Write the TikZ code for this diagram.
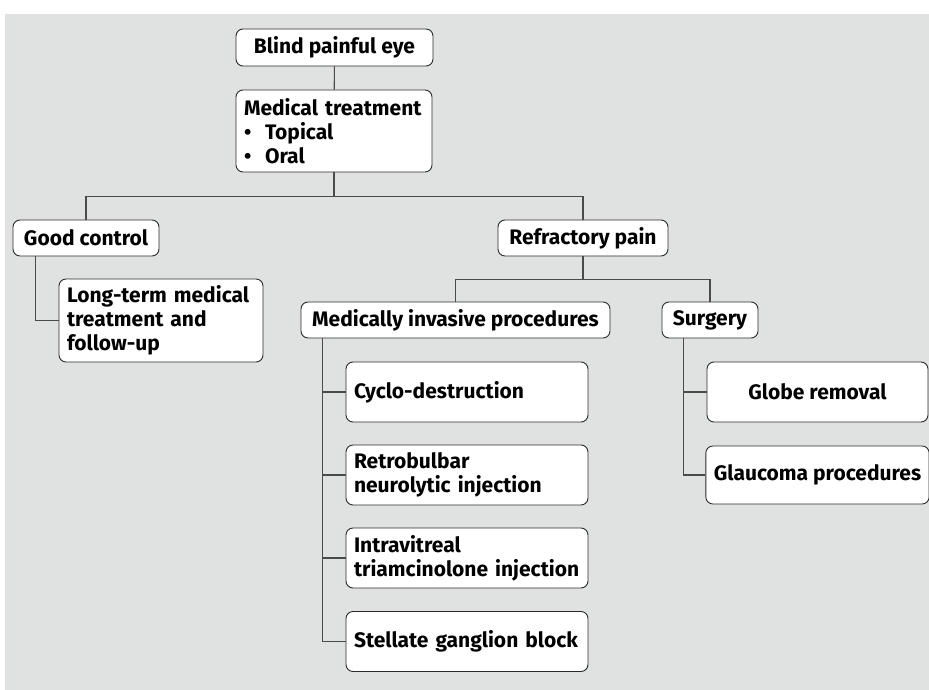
\documentclass[tikz,border=0pt]{standalone}
\usepackage{fontspec}
\setmainfont{Fira Sans}
\usepackage{tikz}
\usetikzlibrary{arrows.meta, calc, positioning}
\definecolor{panelgray}{HTML}{E0E2E1}
\definecolor{boxline}{HTML}{2B2B2B}
\definecolor{linkgray}{HTML}{4A4A4A}
\tikzset{
  box/.style={draw=boxline, fill=white, line width=0.9pt, rounded corners=7pt,
    font=\fontsize{21}{24}\selectfont\bfseries, inner xsep=8pt, inner ysep=0pt},
  leftbox/.style={box, align=left, text width=#1},
  link/.style={draw=linkgray, line width=1.1pt}
}
\newcommand{\bull}[1]{\makebox[21pt][l]{\textbullet}#1}

\begin{document}
\begin{tikzpicture}[x=1pt, y=-1pt]
            \useasboundingbox (0,0) rectangle (929,690);
            \fill[panelgray] (5,14) rectangle (929,690);

            % top of the tree
            \node[box, minimum width=197pt, minimum height=37pt] (blind) at (334.5,47.5) {Blind painful eye};
            \node[leftbox=180pt, minimum width=196pt, minimum height=82pt] (medtx) at (334,131)
                {Medical treatment\\ \bull{Topical}\\ \bull{Oral}};

            % first split
            \node[box, minimum width=146pt, minimum height=36pt] (good) at (86,238) {Good control};
            \node[box, minimum width=170pt, minimum height=36pt] (refr) at (583,238) {Refractory pain};
            \node[leftbox=188pt, minimum width=204pt, minimum height=83pt] (longterm) at (161,320.5)
                {Long-term medical\\ treatment and\\ follow-up};

            % refractory branch
            \node[box, minimum width=309pt, minimum height=36pt] (invasive) at (455.5,320) {Medically invasive procedures};
            \node[box, minimum width=96pt, minimum height=36pt] (surgery) at (710,320) {Surgery};

            \node[leftbox=226pt, minimum width=240pt, minimum height=60pt] (cyclo) at (467,392) {Cyclo-destruction};
            \node[leftbox=226pt, minimum width=240pt, minimum height=60pt] (retro) at (467,475) {Retrobulbar\\ neurolytic injection};
            \node[leftbox=226pt, minimum width=240pt, minimum height=60pt] (intra) at (467,558) {Intravitreal\\ triamcinolone injection};
            \node[leftbox=226pt, minimum width=240pt, minimum height=60pt] (stellate) at (467,641.5) {Stellate ganglion block};

            \node[box, minimum width=221pt, minimum height=60pt] (globe) at (817.5,392) {Globe removal};
            \node[box, minimum width=221pt, minimum height=58pt] (glaucoma) at (817.5,475) {Glaucoma procedures};

            % connectors
            \draw[link] (blind) to (medtx);
            \draw[link] (medtx.south) -- ++(0,24) -| (good.north);
            \draw[link] (medtx.south) -- ++(0,24) -| (refr.north);
            \draw[link] ([xshift=23pt]good.south west) |- (longterm.west);
            \draw[link] (refr.south) -- ++(0,23) -| (invasive.north);
            \draw[link] (refr.south) -- ++(0,23) -| (surgery.north);
            \foreach \child in {cyclo, retro, intra, stellate}
                \draw[link] ([xshift=22pt]invasive.south west) |- (\child.west);
            \foreach \child in {globe, glaucoma}
                \draw[link] ([xshift=22pt]surgery.south west) |- (\child.west);
        \end{tikzpicture}
\end{document}
